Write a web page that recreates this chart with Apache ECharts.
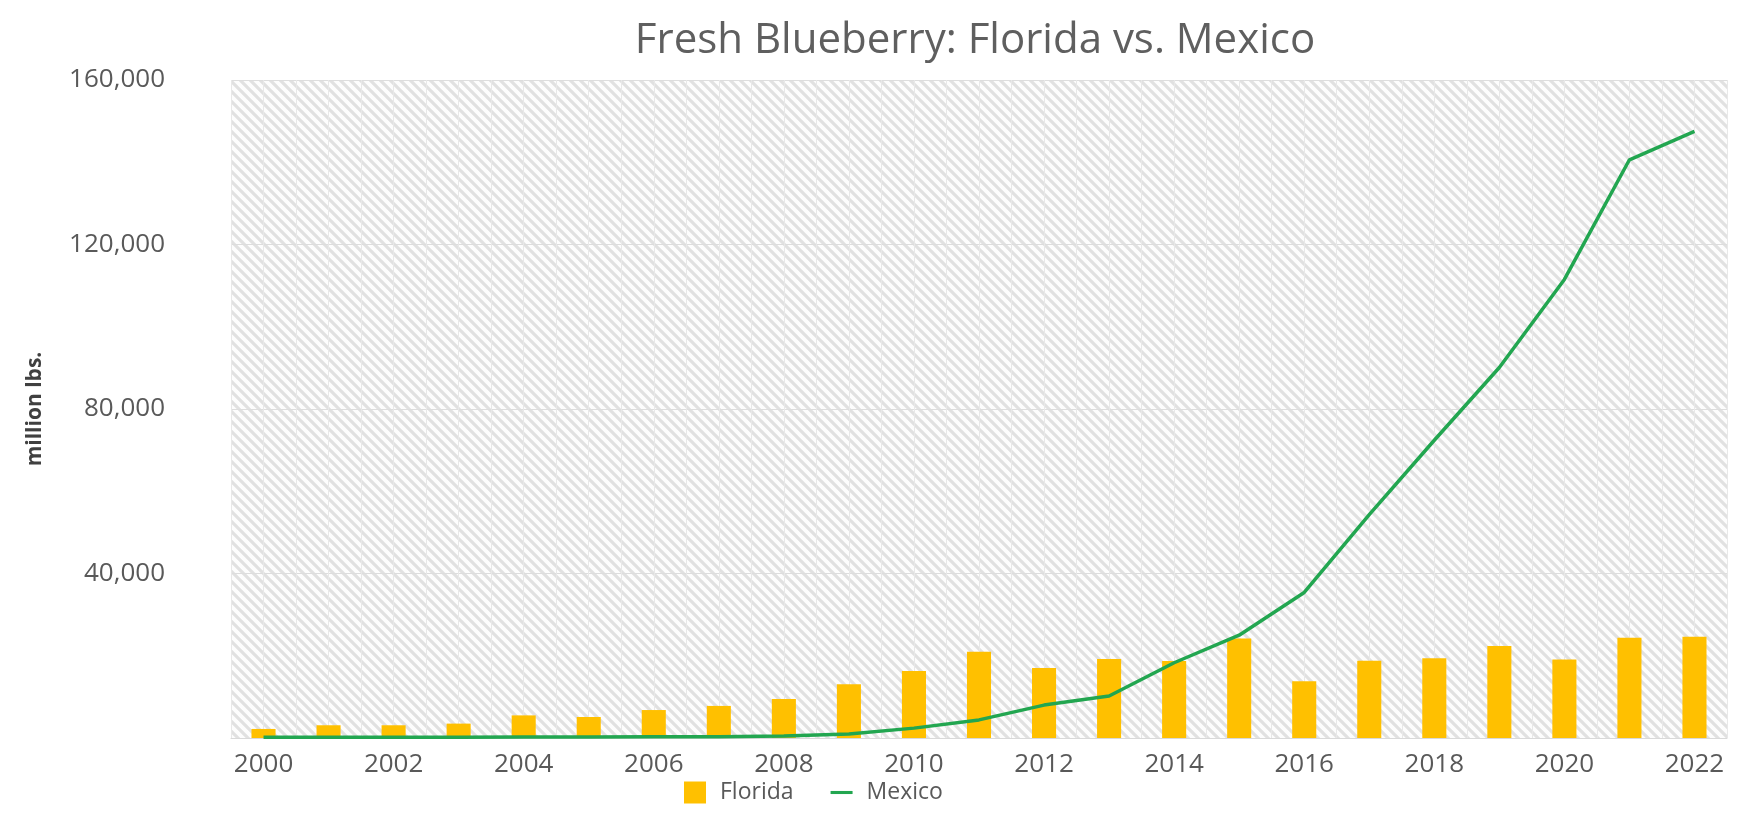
<!DOCTYPE html>
<html>
<head>
<meta charset="utf-8">
<script src="https://cdn.jsdelivr.net/npm/echarts@6/dist/echarts.min.js"></script>
<style>
html,body{margin:0;padding:0;background:#fff;}
#chart{width:1740px;height:836px;}
</style>
</head>
<body>
<div id="chart"></div>
<script>
const years = ['2000','2001','2002','2003','2004','2005','2006','2007','2008','2009','2010','2011','2012','2013','2014','2015','2016','2017','2018','2019','2020','2021','2022'];
const florida = [2200, 3100, 3100, 3500, 5500, 5100, 6800, 7800, 9500, 13100, 16300, 21000, 17000, 19200, 18700, 24200, 13800, 18800, 19400, 22400, 19100, 24400, 24600];
const mexico = [200, 200, 200, 200, 250, 250, 300, 300, 500, 1000, 2400, 4400, 8000, 10200, 18300, 25000, 35400, 54300, 72400, 90100, 111500, 140600, 147500];
const yTicks = [0, 40000, 80000, 120000, 160000];

const tile = document.createElement('canvas');
tile.width = 10; tile.height = 10;
const c = tile.getContext('2d');
c.fillStyle = '#fdfdfd'; c.fillRect(0, 0, 10, 10);
c.strokeStyle = '#e1e1e1'; c.lineWidth = 3.2;
c.beginPath();
c.moveTo(-5, -5); c.lineTo(15, 15);
c.moveTo(-5, 5); c.lineTo(5, 15);
c.moveTo(5, -5); c.lineTo(15, 5);
c.stroke();

const chart = echarts.init(document.getElementById('chart'), null, {renderer: 'canvas'});
const font = "'Open Sans', 'Noto Sans', sans-serif";
chart.setOption({
  animation: false,
  textStyle: {fontFamily: font},
  title: {
    text: 'Fresh Blueberry: Florida vs. Mexico',
    left: 970, top: 15, textAlign: 'center',
    textStyle: {fontSize: 42, fontWeight: 'normal', color: '#5f5f5f', fontFamily: font}
  },
  grid: {
    left: 231, right: 13, top: 80, bottom: 98,
    show: true, borderWidth: 0,
    backgroundColor: {image: tile, repeat: 'repeat'}
  },
  legend: {
    left: 679, top: 776,
    itemWidth: 22, itemHeight: 22, itemGap: 37,
    textStyle: {fontSize: 23, color: '#595959', fontFamily: font, padding: [0, 0, 0, 9]},
    data: [
      {name: 'Florida', icon: 'rect'},
      {name: 'Mexico', icon: 'path://M0,0 L25,0 L25,3.5 L0,3.5 Z'}
    ]
  },
  xAxis: [{
    type: 'category',
    data: years,
    boundaryGap: true,
    axisLine: {show: true, lineStyle: {color: '#d9d9d9', width: 1}},
    axisTick: {show: false},
    axisLabel: {interval: 1, fontSize: 26, color: '#595959', margin: 14, fontFamily: font},
    splitLine: {show: false}
  }, {
    type: 'value', min: 0, max: 46, interval: 1,
    axisLine: {show: false}, axisTick: {show: false}, axisLabel: {show: false},
    splitLine: {show: true, lineStyle: {color: '#e8e8e8', width: 1}}
  }],
  yAxis: {
    type: 'value',
    min: yTicks[0], max: yTicks[yTicks.length - 1], interval: yTicks[1] - yTicks[0],
    name: 'million lbs.',
    nameLocation: 'middle', nameRotate: 90, nameGap: 185,
    nameTextStyle: {fontSize: 21, fontWeight: 'bold', color: '#404040', fontFamily: font},
    axisLine: {show: false}, axisTick: {show: false},
    axisLabel: {fontSize: 26, color: '#595959', margin: 66, fontFamily: font, showMinLabel: false,
      formatter: v => v.toLocaleString('en-US')},
    splitLine: {show: true, lineStyle: {color: '#dddddd', width: 1}}
  },
  series: [{
    name: 'Florida', type: 'bar', data: florida, xAxisIndex: 0,
    barWidth: '37%',
    itemStyle: {color: '#FFC000'}
  }, {
    name: 'Mexico', type: 'line', data: mexico, xAxisIndex: 0,
    symbol: 'none', z: 5,
    lineStyle: {color: '#22A650', width: 3.5},
    itemStyle: {color: '#22A650'}
  }]
});
</script>
</body>
</html>
